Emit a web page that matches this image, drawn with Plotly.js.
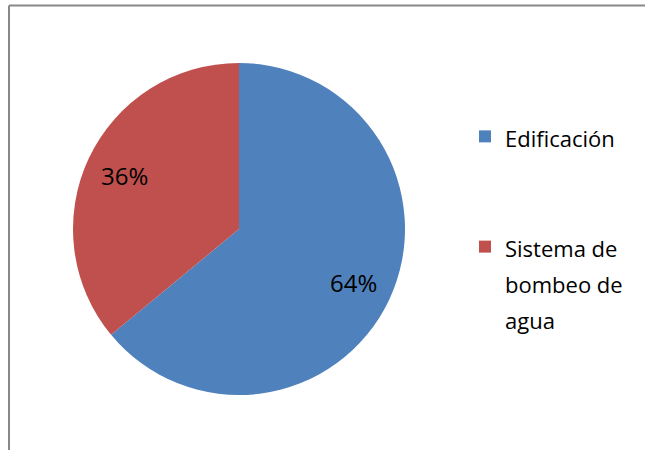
<!DOCTYPE html>
<html>
<head>
<meta charset="utf-8">
<script src="https://cdn.plot.ly/plotly-3.0.1.min.js"></script>
<style>html,body{margin:0;padding:0;background:#fff;}#chart{width:645px;height:450px;}</style>
</head>
<body>
<div id="chart"></div>
<script>
const categories = ["Edificación", "Sistema de bombeo de agua"];
const legendLines = [["Edificación", "\u00a0", "\u00a0"], ["Sistema de", "bombeo de", "agua"]];
const values = [64, 36];
const colors = ["#4F81BD", "#C0504D"];

const W = 645, H = 450;
const pieBox = {x0: 73, x1: 405, y0: 63, y1: 395};   // pixel box of the pie
const textFont = "'Open Sans', sans-serif";

const legendLabels = legendLines.map(lines =>
  lines.map(l => "<span style='font-size:22px'>" + l + "</span>").join("<br>"));

const trace = {
  type: "pie",
  name: "",
  labels: legendLabels,
  values: values,
  sort: false,
  direction: "clockwise",
  rotation: 0,
  marker: {colors: colors, line: {color: "#ffffff", width: 0}},
  textinfo: "none",
  domain: {x: [pieBox.x0 / W, pieBox.x1 / W], y: [1 - pieBox.y1 / H, 1 - pieBox.y0 / H]},
  hoverinfo: "none"
};

// percentage labels placed at each slice's mid-angle, computed from the data
const total = values.reduce((a, b) => a + b, 0);
const cx = (pieBox.x0 + pieBox.x1) / 2, cy = (pieBox.y0 + pieBox.y1) / 2;
const R = (pieBox.x1 - pieBox.x0) / 2;
let cum = 0;
const annotations = values.map(v => {
  const mid = (cum + v / 2) / total * 2 * Math.PI;
  cum += v;
  const r = 0.76 * R;
  const px = cx + r * Math.sin(mid), py = cy - r * Math.cos(mid);
  return {
    xref: "paper", yref: "paper", x: px / W, y: 1 - py / H,
    xanchor: "center", yanchor: "middle", showarrow: false,
    text: Math.round(v / total * 100) + "%",
    font: {family: textFont, size: 24, color: "#000000"}
  };
});

const layout = {
  width: W, height: H,
  margin: {l: 0, r: 0, t: 0, b: 0},
  paper_bgcolor: "#ffffff",
  showlegend: true,
  legend: {
    x: 465 / W, y: 1 - 112 / H, xanchor: "left", yanchor: "top",
    font: {family: textFont, size: 27.5, color: "#000000"},
    valign: "top",
    bgcolor: "rgba(0,0,0,0)"
  },
  annotations: annotations,
  shapes: [
    {type: "line", xref: "paper", yref: "paper", x0: 9 / W, x1: 1, y0: 1 - 5.5 / H, y1: 1 - 5.5 / H, line: {color: "#888888", width: 2}},
    {type: "line", xref: "paper", yref: "paper", x0: 9 / W, x1: 9 / W, y0: 1 - 5.5 / H, y1: 0, line: {color: "#888888", width: 2}}
  ]
};

Plotly.newPlot("chart", [trace], layout, {displayModeBar: false, staticPlot: true});
</script>
</body>
</html>
